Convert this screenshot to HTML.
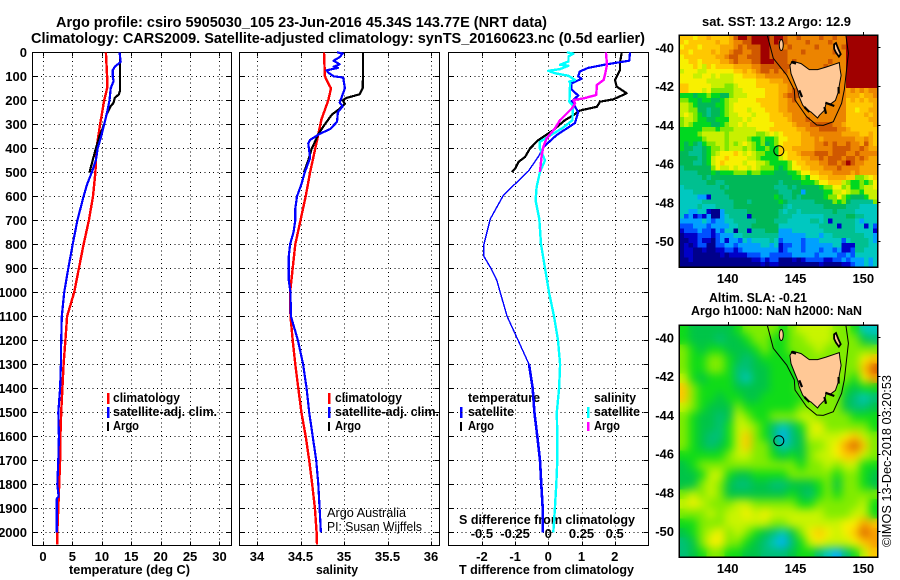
<!DOCTYPE html>
<html lang="en">
<head>
<meta charset="utf-8">
<title>Argo profile</title>
<style>
html,body{margin:0;padding:0;background:#fff;}
svg{display:block;font-family:"Liberation Sans",sans-serif;}
text{fill:#000;font-weight:bold;}
.lab{font-size:13px;}
.thin{font-weight:normal;font-size:13px;}
</style>
</head>
<body>
<svg id="fig" xmlns="http://www.w3.org/2000/svg" width="900" height="580" viewBox="0 0 900 580">
<defs>
<filter id="soft" x="-5%" y="-5%" width="110%" height="110%" color-interpolation-filters="sRGB"><feGaussianBlur stdDeviation="4.6"/></filter>
<clipPath id="clipSla"><rect x="679.3" y="325" width="198.2" height="232"/></clipPath>
</defs>
<text x="56" y="27" font-size="14.5" textLength="491" lengthAdjust="spacingAndGlyphs">Argo profile: csiro 5905030_105 23-Jun-2016 45.34S 143.77E (NRT data)</text>
<text x="31" y="43" font-size="14.5" textLength="614" lengthAdjust="spacingAndGlyphs">Climatology: CARS2009. Satellite-adjusted climatology: synTS_20160623.nc (0.5d earlier)</text>
<text class="lab" x="69" y="574" textLength="121" lengthAdjust="spacingAndGlyphs">temperature (deg C)</text>
<text class="lab" x="316" y="574" textLength="42" lengthAdjust="spacingAndGlyphs">salinity</text>
<text class="lab" x="459" y="574" textLength="175" lengthAdjust="spacingAndGlyphs">T difference from climatology</text>
<text class="lab" x="459" y="524" textLength="176" lengthAdjust="spacingAndGlyphs">S difference from climatology</text>
<text class="lab" x="702" y="26" textLength="149" lengthAdjust="spacingAndGlyphs">sat. SST: 13.2 Argo: 12.9</text>
<text class="lab" x="709" y="302" textLength="98" lengthAdjust="spacingAndGlyphs">Altim. SLA: -0.21</text>
<text class="lab" x="691" y="315" textLength="171" lengthAdjust="spacingAndGlyphs">Argo h1000: NaN h2000: NaN</text>
<text class="thin" transform="translate(891,547) rotate(-90)" textLength="172" lengthAdjust="spacingAndGlyphs">©IMOS 13-Dec-2018 03:20:53</text>
<text class="lab" x="113" y="402" textLength="67" lengthAdjust="spacingAndGlyphs">climatology</text>
<text class="lab" x="113" y="416" textLength="104" lengthAdjust="spacingAndGlyphs">satellite-adj. clim.</text>
<text class="lab" x="113" y="430" textLength="26" lengthAdjust="spacingAndGlyphs">Argo</text>
<text class="lab" x="335" y="402" textLength="67" lengthAdjust="spacingAndGlyphs">climatology</text>
<text class="lab" x="335" y="416" textLength="104" lengthAdjust="spacingAndGlyphs">satellite-adj. clim.</text>
<text class="lab" x="335" y="430" textLength="26" lengthAdjust="spacingAndGlyphs">Argo</text>
<text class="thin" x="327" y="517" font-size="12" textLength="79" lengthAdjust="spacingAndGlyphs">Argo Australia</text>
<text class="thin" x="327" y="531" font-size="12" textLength="95" lengthAdjust="spacingAndGlyphs">PI: Susan Wijffels</text>
<text class="lab" x="468" y="402" textLength="72" lengthAdjust="spacingAndGlyphs">temperature</text>
<text class="lab" x="468" y="416" textLength="46" lengthAdjust="spacingAndGlyphs">satellite</text>
<text class="lab" x="468" y="430" textLength="26" lengthAdjust="spacingAndGlyphs">Argo</text>
<text class="lab" x="594" y="402" textLength="42" lengthAdjust="spacingAndGlyphs">salinity</text>
<text class="lab" x="594" y="416" textLength="46" lengthAdjust="spacingAndGlyphs">satellite</text>
<text class="lab" x="594" y="430" textLength="26" lengthAdjust="spacingAndGlyphs">Argo</text>
<g shape-rendering="crispEdges">
<rect x="107" y="393" width="2.5" height="11" fill="#f00"/>
<rect x="107" y="407" width="2.5" height="11" fill="#00f"/>
<rect x="107" y="422" width="2" height="9" fill="#000"/>
<rect x="328" y="393" width="2.5" height="11" fill="#f00"/>
<rect x="328" y="407" width="2.5" height="11" fill="#00f"/>
<rect x="328" y="422" width="2" height="9" fill="#000"/>
<rect x="460" y="407" width="2.5" height="11" fill="#00f"/>
<rect x="460" y="422" width="2" height="9" fill="#000"/>
<rect x="587" y="407" width="2.5" height="11" fill="#0ff"/>
<rect x="587" y="422" width="2.5" height="9" fill="#f0f"/>
</g>
</svg>
<script>
const depthTicks = [0,100,200,300,400,500,600,700,800,900,1000,1100,1200,1300,1400,1500,1600,1700,1800,1900,2000];
const tempTicks = [0,5,10,15,20,25,30];
const salTicks = [34,34.5,35,35.5,36];
const tDiffTicks = [-2,-1,0,1,2];
const sDiffTicks = [-0.5,-0.25,0,0.25,0.5];
const lonTicks = [140,145,150];
const latTicks = [-40,-42,-44,-46,-48,-50];

const climDepth = [0,100,150,200,300,400,500,600,700,800,900,1000,1100,1200,1300,1400,1500,1600,1700,1800,1900,2000,2050];
const climTemp = [10.7,10.9,10.9,10.4,9.7,9.1,8.9,8.5,7.8,6.9,6.1,5.3,4.1,3.8,3.5,3.3,3.1,2.95,2.9,2.75,2.6,2.43,2.43];
const climSalDepth = [0,100,130,150,200,280,350,400,500,600,700,800,900,1000,1100,1200,1300,1400,1500,1600,1700,1800,1900,2000,2050];
const climSal = [34.77,34.78,34.82,34.85,34.82,34.74,34.7,34.67,34.61,34.56,34.5,34.44,34.41,34.38,34.385,34.41,34.44,34.475,34.51,34.56,34.6,34.635,34.665,34.685,34.69];

const satTempDepth = [0,40,60,75,100,120,150,200,250,300,350,400,450,500,550,600,700,800,900,1000,1100,1200,1300,1400,1500,1600,1700,1800,1850,1860,2000];
const satTemp = [13,13.2,12.2,11.85,11.85,12,11.5,11.3,10.9,10.4,9.9,9.3,9,8.3,7.5,6.9,5.85,5.05,4.3,3.6,3.2,3.1,3.05,2.9,2.6,2.7,2.6,2.43,2.65,2.35,2.33];
const satSalDepth = [0,5,20,35,50,60,65,75,85,100,105,150,190,210,225,250,290,320,340,365,380,440,460,500,550,600,650,700,750,800,850,950,1000,1100,1200,1300,1400,1500,1600,1700,1800,1900,2000];
const satSal = [34.92,34.985,34.95,34.88,34.95,34.88,34.93,34.8,34.82,34.88,34.99,35.01,34.97,34.95,34.985,34.93,34.92,34.84,34.72,34.61,34.59,34.61,34.59,34.55,34.51,34.46,34.44,34.44,34.42,34.38,34.365,34.365,34.385,34.39,34.47,34.53,34.57,34.6,34.64,34.68,34.705,34.72,34.735];

const argoTempDepth = [0,160,175,190,210,225,260,300,350,400,450,500];
const argoTemp = [13.1,13.1,12.9,12.2,12,11.5,10.8,10.4,9.6,9,8.45,7.9];
const argoSalDepth = [0,100,130,150,175,190,200,215,235,260,300,340,370,400,450,480,500];
const argoSal = [35.22,35.22,35.215,35.215,35.18,35.03,34.985,35.01,34.95,34.86,34.78,34.705,34.67,34.63,34.59,34.56,34.54];

const satDtDepthUpper = [0,35,50,65,80,100,110,130,155,180,205,225,250,295,345,395];
const satDtUpper = [2.46,2.44,1.76,1.2,0.95,0.9,1,0.7,0.7,0.9,0.7,0.8,0.9,0.8,0.25,-0.15];
const satDtDepthMid = [395,435,495,595,695,800,850,900,950,1000,1100,1200,1300];
const satDtMid = [-0.15,-0.3,-0.6,-1.35,-1.75,-1.94,-1.94,-1.73,-1.55,-1.45,-1.24,-0.91,-0.58];
const satDtDepthDeep = [1300,1400,1500,1600,1700,1800,1900,2000];
const satDtDeep = [-0.58,-0.47,-0.42,-0.33,-0.25,-0.21,-0.17,-0.17];
const argoDtDepth = [0,45,73,115,143,157,171,196,206,227,243,262,283,324,366,401,436,457,485,499];
const argoDt = [2.21,2.16,2.16,2.01,2.06,2.21,2.36,1.96,1.56,1.46,0.95,0.75,0.5,0.15,-0.3,-0.55,-0.7,-0.9,-1,-1.1];
const satDsDepth = [0,6,17,38,52,56,70,77,87,98,115,122,129,206,220,283,313,373,401,450,499,562,618,695,800,900,1000,1100,1200,1300,1400,1500,1600,1700,1800,1900,2000];
const satDs = [0.139,0.189,0.152,0.152,0.088,0.152,0.088,0,0.05,0.152,0.202,0.159,0.164,0.159,0.184,0.182,0.114,-0.063,-0.063,-0.025,-0.063,-0.088,-0.096,-0.068,-0.055,-0.025,0.005,0.043,0.073,0.089,0.081,0.064,0.068,0.068,0.06,0.05,0.038];
const argoDsDepth = [0,52,87,115,136,178,192,199,213,234,255,283,317,359,394,429,499];
const argoDs = [0.434,0.442,0.429,0.417,0.366,0.361,0.265,0.189,0.202,0.177,0.139,0.088,0.05,-0.013,-0.038,-0.05,-0.063];

const colorLevels = ['#00008c','#0000c8','#0050ff','#00a0ff','#00c8c0','#00c090','#00b858','#00d820','#80e800','#c8f000','#f8f000','#ffc800','#f8a800','#ec8400','#d05800','#a00000'];
const slaLevels = ['#00008c','#0000c8','#0050ff','#00b0ff','#00c8c0','#00c078','#00c448','#10dc18','#80ec00','#c8f400','#f8f000','#ffc800','#f8a000','#d86000','#c85000','#a00000'];

const sstGrid = [
[11,11,11,10,11,11,12,11,11,11,11,12,14,15,15,14,15,15,15,15,14,15,15,14,13,13,14,13,13,13,13,14,13,13,14,13,13,15,15,15,15,15,15,15],
[11,10,11,11,11,11,11,11,12,11,11,12,13,13,14,14,15,15,15,15,14,15,14,14,13,13,13,13,14,13,13,13,13,14,13,13,13,15,15,15,15,15,15,15],
[10,11,11,11,10,11,11,11,11,12,12,12,13,14,13,14,14,14,15,15,14,14,14,13,14,13,13,13,13,13,14,13,13,13,13,13,14,15,15,15,15,15,15,15],
[11,11,10,11,11,11,11,12,11,12,12,13,14,14,13,13,14,14,15,15,14,14,14,14,13,13,13,14,13,13,13,13,13,13,14,13,13,15,15,15,15,15,15,15],
[10,11,11,11,11,11,11,11,12,12,13,14,14,13,13,14,14,14,15,15,14,14,14,14,13,13,13,13,13,13,13,13,13,13,13,13,13,15,15,15,15,15,15,15],
[10,10,11,11,10,11,11,11,11,12,12,13,14,13,13,13,14,14,15,15,15,14,14,14,13,14,13,13,13,13,13,13,13,14,13,13,13,15,15,15,15,15,15,15],
[10,10,10,11,10,9,11,10,11,11,11,11,12,12,12,12,13,13,14,14,14,14,14,14,14,13,13,13,13,13,13,13,14,13,13,13,13,15,15,15,15,15,15,15],
[9,10,10,10,9,9,10,10,10,10,10,10,11,11,12,11,12,13,14,14,13,14,13,14,13,13,13,13,13,13,13,13,13,13,13,13,13,15,15,15,15,15,15,15],
[10,10,10,9,9,10,10,9,10,9,9,9,10,10,11,11,11,12,12,13,13,13,13,13,13,13,13,13,13,13,13,13,13,13,13,13,13,15,15,15,15,15,15,15],
[10,10,10,10,10,10,9,9,9,9,9,9,10,10,10,10,10,11,11,11,12,12,12,13,13,13,14,14,13,13,13,13,13,13,13,13,13,15,15,15,15,15,15,15],
[11,11,10,10,10,10,10,9,9,9,8,8,9,10,10,10,10,11,11,11,11,11,12,12,13,13,14,13,13,13,13,13,13,13,13,13,13,15,15,15,15,15,15,15],
[11,11,10,10,10,9,10,8,8,8,8,8,9,9,10,10,10,10,10,11,11,11,12,12,13,14,14,13,13,13,13,13,13,13,13,13,13,12,13,12,13,12,13,13],
[7,7,7,6,7,7,8,7,7,6,6,8,9,9,9,10,10,10,10,11,11,11,12,13,14,14,14,13,13,13,13,13,13,13,13,13,13,12,12,12,11,12,12,13],
[8,8,7,7,6,7,7,6,6,7,8,9,9,10,10,10,10,11,11,11,11,11,12,12,13,14,13,13,13,13,13,13,13,13,13,13,13,11,12,11,12,11,12,12],
[9,9,8,7,6,6,6,6,7,7,8,9,10,10,10,10,10,10,11,11,11,11,12,12,13,13,13,13,13,13,13,13,13,13,13,13,13,11,11,11,11,11,11,12],
[9,9,8,8,6,6,5,6,6,7,8,9,10,10,10,9,10,10,10,11,11,11,12,12,13,13,13,13,13,13,13,13,13,13,13,13,13,11,11,10,11,11,12,12],
[9,10,9,8,7,6,5,6,6,7,8,9,9,10,10,10,9,10,10,10,11,11,11,12,12,13,13,13,13,13,13,13,13,13,13,13,13,11,11,11,11,12,11,12],
[8,9,9,8,7,7,6,6,7,7,7,9,9,9,10,9,10,10,10,10,11,11,11,11,12,13,13,13,14,13,13,13,13,13,13,13,13,11,11,11,11,11,12,12],
[8,9,8,7,7,7,7,6,6,7,8,9,9,10,9,10,10,10,10,10,10,11,11,11,11,12,13,13,13,14,14,14,14,14,13,13,12,11,11,11,11,11,11,12],
[7,7,7,7,7,8,8,8,7,8,8,8,9,9,9,9,9,10,10,10,11,11,11,11,11,11,12,12,13,13,13,14,14,14,14,13,13,12,11,11,11,11,11,11],
[7,7,7,7,8,9,9,9,9,9,8,9,9,9,9,9,9,8,8,9,10,9,10,11,11,11,11,12,12,13,13,13,13,13,13,13,12,12,12,12,11,11,12,11],
[7,7,7,7,7,8,9,9,9,9,8,9,9,9,9,8,7,7,8,7,7,8,10,10,11,11,11,12,12,12,13,12,13,13,13,13,13,13,13,12,12,13,12,11],
[7,6,7,6,5,7,8,8,9,9,8,9,8,9,10,9,8,7,8,6,7,8,10,11,11,11,11,12,12,12,13,13,14,13,14,13,13,14,13,13,12,14,12,11],
[7,6,6,5,5,6,7,8,8,9,8,9,9,9,8,9,8,7,7,8,7,7,11,11,11,12,12,12,12,12,13,13,13,13,14,14,14,14,13,13,14,13,12,12],
[6,6,5,5,5,6,7,8,9,10,10,10,11,10,9,10,9,8,8,7,7,7,11,10,11,11,12,13,13,13,14,14,14,13,14,14,14,13,13,14,13,13,13,13],
[6,6,6,6,5,6,7,9,10,10,11,10,10,10,10,9,9,8,7,7,7,7,9,10,11,11,11,12,12,13,13,14,13,14,14,14,13,14,14,13,14,13,12,12],
[6,6,6,5,5,6,7,9,10,11,10,10,10,10,9,10,10,9,9,8,7,7,7,7,8,10,11,11,12,12,12,13,13,14,14,13,14,15,14,13,13,12,12,12],
[5,6,6,6,6,6,6,8,10,9,9,10,9,10,10,9,10,9,8,8,8,7,6,7,8,10,10,11,11,12,12,12,13,13,13,14,13,13,13,13,12,12,12,12],
[5,5,5,5,6,6,6,7,6,7,7,7,8,8,8,7,8,8,7,7,7,6,6,6,7,7,8,10,10,11,11,12,12,12,13,13,13,13,12,13,12,12,12,12],
[5,5,5,5,5,6,5,6,6,6,6,6,6,6,6,6,6,6,6,6,6,6,6,6,6,7,7,8,7,10,10,11,11,12,12,12,12,11,11,8,8,9,10,11],
[5,5,5,5,5,5,6,6,5,5,6,6,6,6,6,6,6,6,6,6,6,6,5,6,6,6,6,7,7,7,8,10,10,11,11,11,9,8,7,7,8,7,8,10],
[4,5,5,5,5,5,5,5,5,6,5,6,6,6,6,6,6,6,6,6,6,5,5,5,6,5,6,6,6,6,6,7,8,8,10,10,8,9,7,7,8,9,9,10],
[4,4,4,5,5,5,5,5,5,5,6,6,6,6,6,6,6,6,6,6,6,6,5,5,5,6,6,3,6,6,6,6,7,7,9,9,10,9,8,8,7,9,9,9],
[4,4,4,4,3,3,1,5,5,5,5,6,6,6,6,6,6,6,6,6,6,7,6,5,5,6,5,6,6,6,6,6,7,8,8,10,8,7,6,6,6,7,9,9],
[4,4,4,4,4,5,5,5,5,5,5,5,6,6,6,5,6,6,6,6,6,6,7,6,5,5,5,5,5,5,6,6,6,6,8,7,8,6,5,5,5,5,5,8],
[4,4,4,4,5,4,4,4,5,5,5,5,6,6,6,6,6,6,6,6,6,6,6,5,4,5,5,5,5,5,5,5,6,6,6,6,6,5,5,5,4,4,4,4],
[4,4,3,3,4,4,1,0,0,3,5,5,5,5,5,6,6,6,6,6,6,6,5,4,5,5,4,5,5,5,5,5,5,5,6,5,5,5,5,4,4,4,4,4],
[4,2,3,1,2,1,3,0,0,3,4,5,5,5,5,1,6,6,6,6,6,6,5,5,5,4,4,4,4,4,4,4,5,5,5,5,5,6,6,5,5,4,4,4],
[3,3,3,3,3,4,3,2,3,3,4,4,5,5,5,5,5,6,6,6,6,5,5,5,4,4,4,4,4,5,5,4,5,1,5,5,5,5,5,4,3,4,4,4],
[2,2,2,3,3,3,2,3,3,3,3,4,4,5,5,5,6,6,6,6,6,6,4,4,4,4,4,4,4,4,4,5,5,5,5,1,5,5,5,4,4,1,4,2],
[1,2,2,2,3,2,2,1,3,2,4,4,0,5,5,1,5,5,5,6,6,6,3,3,3,4,4,4,4,4,4,4,5,5,5,5,5,5,5,4,4,4,4,1],
[0,1,1,1,2,2,2,1,2,3,3,3,4,4,5,5,5,5,5,5,5,5,3,3,3,3,3,3,4,4,4,3,4,4,5,5,5,5,5,5,5,4,4,3],
[0,0,1,1,2,1,1,0,2,3,1,3,3,2,4,3,4,4,4,4,5,4,2,3,3,3,3,2,3,3,3,4,4,4,4,4,2,4,5,5,5,5,4,3],
[0,1,0,1,2,2,0,0,2,2,3,3,2,3,3,3,3,3,4,4,3,4,1,2,2,3,3,2,3,3,3,3,3,3,4,4,1,1,1,5,5,5,4,4],
[0,1,1,0,0,1,0,0,1,1,2,2,1,2,3,3,3,3,3,3,3,3,1,2,3,3,3,2,3,3,3,2,3,3,2,3,1,1,2,5,5,4,4,4],
[0,1,1,0,0,0,0,0,0,1,0,1,1,1,1,2,2,2,3,3,2,2,2,2,2,3,3,3,3,3,2,3,3,3,3,2,2,3,2,4,4,4,4,4],
[0,0,1,0,0,0,0,0,0,0,0,0,0,0,0,0,1,1,2,1,2,2,0,0,0,1,0,1,2,2,2,2,1,1,2,2,3,2,3,3,3,4,3,4],
[0,0,0,0,0,0,0,0,0,0,0,0,0,0,0,0,0,0,1,0,1,1,0,0,0,0,0,0,0,0,0,1,0,0,0,0,1,1,2,3,3,4,3,4]
];

const slaGrid = [
[7,6,6,6,6,6,7,8,8,8,8,7,8,9,9,9,9,8,8,7,4,4],
[7,6,6,6,5,6,6,7,8,8,7,7,8,8,9,9,9,8,8,8,6,5],
[8,7,6,7,7,6,6,6,7,8,7,7,8,8,8,9,8,8,8,8,8,8],
[8,7,7,8,8,7,6,5,6,7,7,7,7,8,8,8,8,8,8,8,10,11],
[8,7,7,8,8,7,5,5,6,6,7,7,7,8,8,8,8,8,8,8,11,13],
[9,7,6,7,7,7,5,4,6,6,7,7,7,7,8,8,8,8,8,7,10,12],
[11,8,7,7,7,7,6,6,6,6,7,7,7,8,8,8,8,8,7,6,7,7],
[11,8,7,7,6,7,7,6,6,7,7,7,7,7,8,8,8,8,6,5,4,5],
[9,8,7,6,6,6,8,7,7,7,7,7,7,8,8,8,8,8,6,5,5,6],
[8,7,6,6,5,6,9,8,7,7,8,8,8,9,9,8,8,8,8,7,7,7],
[8,7,6,6,5,7,9,9,8,7,5,4,5,7,9,10,8,8,8,8,8,7],
[8,7,6,5,5,7,9,11,8,7,5,3,5,6,9,9,9,9,10,11,9,8],
[8,7,6,5,6,7,9,11,8,8,6,4,5,6,8,8,9,10,12,13,11,8],
[7,7,7,7,7,8,9,9,8,8,7,6,7,6,8,9,9,10,11,11,9,8],
[6,7,8,8,8,8,8,8,8,8,8,8,8,7,8,8,9,8,9,9,7,7],
[6,6,7,9,9,7,6,6,7,7,7,7,8,8,8,8,8,7,8,8,7,6],
[6,6,8,9,8,6,5,5,6,6,5,5,6,6,6,7,8,6,8,8,7,6],
[8,9,8,9,8,6,6,6,6,6,6,6,7,6,5,7,8,7,8,8,8,8],
[9,10,9,8,8,8,9,9,8,8,8,8,8,7,7,8,8,8,8,8,9,7],
[8,8,8,9,8,9,9,10,9,10,9,9,9,9,9,9,8,8,8,9,9,7],
[7,7,8,8,8,9,9,9,9,9,8,8,9,9,9,9,9,9,10,10,12,11],
[6,7,8,9,10,8,9,8,7,6,5,4,6,8,10,11,10,9,10,11,13,12],
[5,6,8,10,10,8,8,7,6,5,4,3,5,7,9,10,9,9,9,10,11,12],
[5,6,7,8,8,7,7,6,6,5,5,5,6,7,7,5,4,3,5,7,9,11]
];

const tasmaniaLon = [144.59,144.79,145.41,146.02,146.63,147.25,147.86,148.23,148.28,148.36,148.23,148.16,147.94,147.62,147.25,147.13,146.76,146.63,146.14,145.9,145.53,145.28,145.16,144.91,144.67];
const tasmaniaLat = [-40.93,-40.72,-40.84,-41.15,-41.15,-41.02,-40.88,-40.79,-41.1,-41.45,-41.96,-42.31,-42.74,-42.91,-42.91,-43.25,-43.51,-43.65,-43.34,-43.25,-42.99,-42.57,-42.22,-41.79,-41.36];
const flindersLon = [147.85,147.99,148.15,148.33,148.2,147.99,147.85];
const flindersLat = [-39.85,-39.78,-40.07,-40.35,-40.48,-40.28,-40.07];
const shelfLon = [142.92,143.36,144.35,144.91,144.96,145.82,146.56,147.05,147.79,148.4,148.6,148.9,148.72];
const shelfLat = [-39.38,-40.57,-41.43,-42.2,-42.72,-43.58,-44.01,-44.03,-43.84,-42.89,-42.2,-40.31,-39.38];
const coastRoughLon = [[147.2,147.86],[147.13,147.25],[148.18,148.18],[144.67,145.04],[145.28,145.48],[145.65,146.02]];
const coastRoughLat = [[-42.86,-43.03],[-43.08,-43.43],[-42.05,-42.39],[-40.76,-40.84],[-42.22,-42.57],[-43.08,-43.34]];
const argoLon = 143.77;
const argoLat = -45.34;

const NS = 'http://www.w3.org/2000/svg';
const fig = document.getElementById('fig');

function make(tag, parent, attrs) {
  const node = document.createElementNS(NS, tag);
  for (const k in attrs) node.setAttribute(k, attrs[k]);
  parent.appendChild(node);
  return node;
}
function yDepth(d) { return 52.3 + d * 0.24; }
function xTemp(v) { return 43 + v * 5.883; }
function xSal(v) { return 257 + (v - 34) * 87; }
function xDt(v) { return 548.3 + v * 33.2; }
function xDs(v) { return 548.3 + v * 132.8; }
function mapX(lon) { return 727.7 + (lon - 140) * 13.56; }
function mapY(lat, top) { return top + 12.3 + (-40 - lat) * 19.37; }

function drawPanel(name, left, right, xTicks, xFn, labels) {
  const top = 52.5, bottom = 545.5;
  const g = make('g', fig, {});
  
  
  depthTicks.forEach(function (d) {
    const y = Math.round(yDepth(d)) + 0.5;
    if (d > 0) {
      const gl = make('line', g, {x1: left, x2: right, y1: y, y2: y, stroke: '#000', 'stroke-dasharray': '1 3.3', 'shape-rendering': 'crispEdges'});
      
      
      const t1 = make('line', g, {x1: left, x2: left + 5, y1: y, y2: y, stroke: '#000', 'shape-rendering': 'crispEdges'});
      
      
      const t2 = make('line', g, {x1: right - 5, x2: right, y1: y, y2: y, stroke: '#000', 'shape-rendering': 'crispEdges'});
      
      
    }
  });
  xTicks.forEach(function (v, i) {
    const x = Math.round(xFn(v)) + 0.5;
    const gl = make('line', g, {x1: x, x2: x, y1: top, y2: bottom, stroke: '#000', 'stroke-dasharray': '1 3.3', 'shape-rendering': 'crispEdges'});
    
    
    const t1 = make('line', g, {x1: x, x2: x, y1: top, y2: top + 4, stroke: '#000', 'shape-rendering': 'crispEdges'});
    
    
    const t2 = make('line', g, {x1: x, x2: x, y1: bottom - 4, y2: bottom, stroke: '#000', 'shape-rendering': 'crispEdges'});
    
    
    const lab = make('text', g, {x: xFn(v), y: 561, 'text-anchor': 'middle', class: 'lab', 'font-size': 13});
    
    
    lab.textContent = String(labels ? labels[i] : v);
  });
  const frame = make('rect', g, {x: left, y: top, width: right - left, height: bottom - top, fill: 'none', stroke: '#000', 'shape-rendering': 'crispEdges'});
  
  
}

function drawSeries(name, values, depths, xFn, color, width) {
  const pts = values.map(function (v, i) { return xFn(v).toFixed(1) + ',' + yDepth(depths[i]).toFixed(1); }).join(' ');
  const line = make('polyline', fig, {points: pts, fill: 'none', stroke: color, 'stroke-width': width, 'stroke-linejoin': 'round', 'shape-rendering': 'crispEdges'});
  
  
}

drawPanel('temperature-panel', 32.5, 231.5, tempTicks, xTemp);
drawPanel('salinity-panel', 239.5, 439.5, salTicks, xSal);
drawPanel('difference-panel', 448.5, 648.5, tDiffTicks, xDt);

const depthLabels = make('g', fig, {});


depthTicks.forEach(function (d) {
  const lab = make('text', depthLabels, {x: 27, y: yDepth(d) + 4.5, 'text-anchor': 'end', class: 'lab', 'font-size': 13});
  
  
  lab.textContent = String(d);
});

sDiffTicks.forEach(function (v) {
  const lab = make('text', fig, {x: xDs(v), y: 538, 'text-anchor': 'middle', class: 'lab', 'font-size': 13});
  
  
  lab.textContent = String(v);
});

drawSeries('temperature-climatology-line', climTemp, climDepth, xTemp, '#f00', 2.4);
drawSeries('temperature-argo-line', argoTemp, argoTempDepth, xTemp, '#000', 2.2);
drawSeries('temperature-satellite-line', satTemp, satTempDepth, xTemp, '#00f', 2.2);
drawSeries('salinity-climatology-line', climSal, climSalDepth, xSal, '#f00', 2.4);
drawSeries('salinity-argo-line', argoSal, argoSalDepth, xSal, '#000', 2.2);
drawSeries('salinity-satellite-line', satSal, satSalDepth, xSal, '#00f', 2.2);
drawSeries('t-diff-argo-line', argoDt, argoDtDepth, xDt, '#000', 2.2);
drawSeries('t-diff-satellite-upper-line', satDtUpper, satDtDepthUpper, xDt, '#00f', 2.2);
drawSeries('t-diff-satellite-mid-line', satDtMid, satDtDepthMid, xDt, '#00f', 1.4);
drawSeries('t-diff-satellite-deep-line', satDtDeep, satDtDepthDeep, xDt, '#00f', 2.6);
drawSeries('s-diff-satellite-line', satDs, satDsDepth, xDs, '#0ff', 2.4);
drawSeries('s-diff-argo-line', argoDs, argoDsDepth, xDs, '#f0f', 2.4);

function drawGrid(parent, grid, top, palette, prefix) {
  const cellW = 198.2 / grid[0].length;
  const cellH = 232 / grid.length;
  grid.forEach(function (row, r) {
    row.forEach(function (v, c) {
      const cell = make('rect', parent, {x: (679.3 + c * cellW).toFixed(2), y: (top + r * cellH).toFixed(2), width: (cellW + 0.4).toFixed(2), height: (cellH + 0.4).toFixed(2), fill: palette[v], 'shape-rendering': 'crispEdges'});
      
      
    });
  });
}

function drawMapOverlay(name, top) {
  const g = make('g', fig, {});
  
  
  const shelf = make('polyline', g, {points: shelfLon.map(function (v, i) { return mapX(v).toFixed(1) + ',' + mapY(shelfLat[i], top).toFixed(1); }).join(' '), fill: 'none', stroke: '#000', 'stroke-width': 1});
  
  
  const tas = make('polygon', g, {points: tasmaniaLon.map(function (v, i) { return mapX(v).toFixed(1) + ',' + mapY(tasmaniaLat[i], top).toFixed(1); }).join(' '), fill: '#ffc896', stroke: '#000', 'stroke-width': 1});
  
  
  const fl = make('polygon', g, {points: flindersLon.map(function (v, i) { return mapX(v).toFixed(1) + ',' + mapY(flindersLat[i], top).toFixed(1); }).join(' '), fill: '#ffc896', stroke: '#000', 'stroke-width': 1.8});
  
  
  const ki = make('ellipse', g, {cx: mapX(143.95), cy: mapY(-39.88, top), rx: 2, ry: 5.5, fill: '#ffc896', stroke: '#000', 'stroke-width': 1});
  
  
  coastRoughLon.forEach(function (lons, i) {
    const rough = make('line', g, {x1: mapX(lons[0]), y1: mapY(coastRoughLat[i][0], top), x2: mapX(lons[1]), y2: mapY(coastRoughLat[i][1], top), stroke: '#000', 'stroke-width': 2.2});
    
    
  });
  const marker = make('circle', g, {cx: mapX(argoLon), cy: mapY(argoLat, top), r: 5, fill: 'none', stroke: '#000', 'stroke-width': 1});
  
  
  const bottom = top + 232;
  latTicks.forEach(function (lat) {
    const y = Math.round(mapY(lat, top)) + 0.5;
    const tr = make('line', g, {x1: 877.5, x2: 880.5, y1: y, y2: y, stroke: '#000', 'shape-rendering': 'crispEdges'});
    
    
    const lab = make('text', g, {x: 674, y: mapY(lat, top) + 5, 'text-anchor': 'end', class: 'lab', 'font-size': 13});
    
    
    lab.textContent = String(lat);
  });
  lonTicks.forEach(function (lon) {
    const x = Math.round(mapX(lon)) + 0.5;
    const tt = make('line', g, {x1: x, x2: x, y1: top - 3, y2: top, stroke: '#000', 'shape-rendering': 'crispEdges'});
    
    
    const lab = make('text', g, {x: mapX(lon), y: bottom + 16, 'text-anchor': 'middle', class: 'lab', 'font-size': 13});
    
    
    lab.textContent = String(lon);
  });
  const frame = make('rect', g, {x: 679, y: top, width: 198.5, height: 232, fill: 'none', stroke: '#000', 'stroke-width': 1.5, 'shape-rendering': 'crispEdges'});
  
  
}

const sstLayer = make('g', fig, {});


drawGrid(sstLayer, sstGrid, 35, colorLevels, 'sst');
drawMapOverlay('sst-map', 35);

const slaBase = make('g', fig, {});


drawGrid(slaBase, slaGrid, 325, slaLevels, 'sla');
const slaClip = make('g', fig, {'clip-path': 'url(#clipSla)'});


const slaSoft = make('g', slaClip, {filter: 'url(#soft)'});


drawGrid(slaSoft, slaGrid, 325, slaLevels, 'sla');
drawMapOverlay('sla-map', 325);
</script>
</body>
</html>
